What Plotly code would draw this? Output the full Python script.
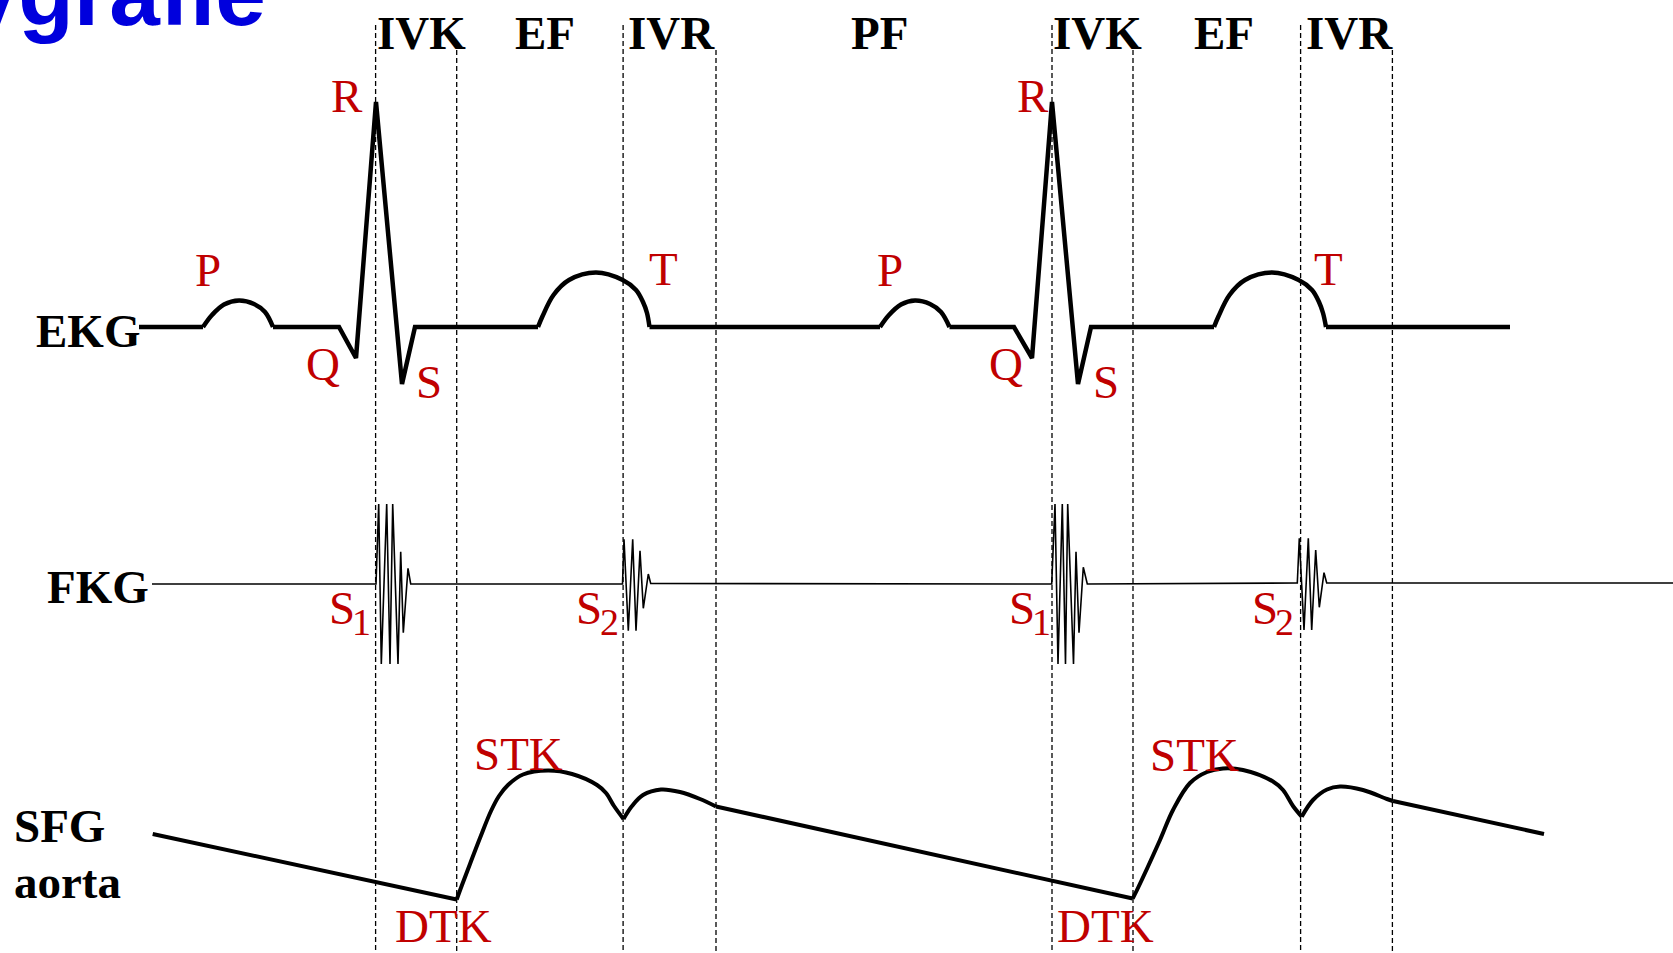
import plotly.graph_objects as go

# ---------------- data (schematic coordinates) ----------------
# EKG straight parts (None separates pieces)
EKG_LINE_X = [139, 203, None, 273, 339, 356, 376, 402, 415, 538, None, 649.5, 880, None,
              949.5, 1014, 1032, 1052, 1078, 1091, 1214, None, 1326, 1510]
EKG_LINE_Y = [327, 327, None, 327, 327, 358, 102, 384, 327, 327, None, 327, 327, None,
              327, 327, 358, 102, 384, 327, 327, None, 327, 327]
# EKG rounded waves (P and T), drawn as splines
EKG_WAVE_X = [203, 212, 224, 239, 254, 265, 273, None,
              538, 542.4, 553.5, 569, 596, 622.7, 636, 643, 647, 649.5, None,
              880, 889, 901, 915, 930, 941, 949.5, None,
              1214, 1218.4, 1229.5, 1245, 1272, 1298.7, 1312, 1319, 1323, 1326]
EKG_WAVE_Y = [327, 315, 304.5, 300.5, 304, 312, 327, None,
              327, 316.5, 295, 280, 272.5, 280, 290, 302, 313, 327, None,
              327, 315, 304.5, 300.5, 304, 312, 327, None,
              327, 316.5, 295, 280, 272.5, 280, 290, 302, 313, 327]

# FKG (phonocardiogram) trace
FKG_X = [152, 376, 378.7, 381.3, 386.7, 390, 392.7, 398, 400.7, 403.3, 408, 410.7,
         622.5, 624, 628.3, 632.7, 636, 640, 643.3, 648.3, 650.7,
         1051.7, 1055, 1058, 1062.3, 1065.5, 1067.7, 1073.5, 1076, 1079, 1083.3, 1087.3,
         1297.3, 1299.3, 1304, 1308.3, 1311.7, 1315.7, 1319.3, 1324, 1326.7, 1673]
FKG_Y = [584, 584, 504, 664, 504, 664, 504, 664, 551.7, 632.7, 568.3, 584,
         584, 539.3, 630.7, 539.3, 630.7, 550.7, 608.3, 574, 583.5,
         584, 504, 664, 504, 664, 504, 664, 551.7, 632.7, 567.3, 584,
         583, 538.3, 630, 538.3, 630, 550, 607.3, 572.7, 583, 583]

# SFG aorta: straight diastolic run-offs
SFG_LINE_X = [152.7, 456.7, None, 716, 1132.7, None, 1393, 1544]
SFG_LINE_Y = [834, 899.5, None, 806.5, 898.5, None, 801, 834]
# SFG aorta: systolic curves (splines), split at the dicrotic notch
SFG_CURVE_X = [456.7, 462, 470, 480, 491, 499, 508, 523, 548, 572, 597, 606, 614, 623.5, None,
               623.5, 632, 643, 661, 680, 700, 716, None,
               1132.7, 1137, 1160, 1173, 1190, 1207, 1223, 1243, 1273, 1283, 1293, 1301.7, None,
               1301.7, 1313, 1327, 1340, 1363, 1387, 1393]
SFG_CURVE_Y = [899.5, 885, 864, 838, 811, 796, 785, 774.5, 770.5, 774, 785, 793, 806, 819, None,
               819, 806, 795, 789.5, 792, 799, 806.5, None,
               898.5, 890, 840, 810, 783, 772, 768.5, 770, 781.5, 790, 806, 816.7, None,
               816.7, 800, 789.5, 786.5, 790, 799, 801]

# phase boundaries (dashed lines)
BOUND_X = [375.6, 456.7, 623.1, 716, 1052, 1133, 1300.6, 1392.4]
BOUND_TOP = [25, 50, 25, 50, 25, 50, 25, 50]
BOUND_BOTTOM = 953

# phase labels
PHASE_TEXT = ["IVK", "EF", "IVR", "PF", "IVK", "EF", "IVR"]
PHASE_X = [421, 544.6, 671, 879, 1097.8, 1224, 1349.7]
PHASE_Y = 32.5

# red wave labels
WAVE_TEXT = ["P", "Q", "R", "S", "T", "P", "Q", "R", "S", "T", "STK", "DTK", "STK", "DTK"]
WAVE_X = [208, 323, 346.5, 428.6, 663, 889.6, 1006, 1032.6, 1105.5, 1328.5, 518.4, 443, 1194, 1105]
WAVE_Y = [270, 364, 96, 381.7, 269, 270, 364, 96, 381.7, 269, 754, 925.5, 755, 926]

# heart sound labels (letter + subscript)
SOUND_MAIN_X = [342, 589, 1022, 1264.5]
SOUND_SUB = ["1", "2", "1", "2"]
SOUND_SUB_X = [361.3, 609, 1041, 1284.5]
SOUND_Y = 608
SOUND_SUB_Y = 622

# row labels
ROW_TEXT = ["EKG", "FKG"]
ROW_X = [88, 97.5]
ROW_Y = [330.5, 587]

RED = "#C00000"
SERIF = "Liberation Serif, Times New Roman, serif"

fig = go.Figure()

# dashed boundaries
dx, dy = [], []
for x, t in zip(BOUND_X, BOUND_TOP):
    dx += [x, x, None]
    dy += [t, BOUND_BOTTOM, None]
fig.add_trace(go.Scatter(x=dx, y=dy, mode="lines",
                         line=dict(color="black", width=1.3, dash="5px,3px"),
                         hoverinfo="skip"))

fig.add_trace(go.Scatter(x=EKG_LINE_X, y=EKG_LINE_Y, mode="lines",
                         line=dict(color="black", width=4.5), connectgaps=False))
fig.add_trace(go.Scatter(x=EKG_WAVE_X, y=EKG_WAVE_Y, mode="lines",
                         line=dict(color="black", width=4.5, shape="spline", smoothing=1),
                         connectgaps=False))
fig.add_trace(go.Scatter(x=FKG_X, y=FKG_Y, mode="lines",
                         line=dict(color="black", width=1.6)))
fig.add_trace(go.Scatter(x=SFG_LINE_X, y=SFG_LINE_Y, mode="lines",
                         line=dict(color="black", width=4), connectgaps=False))
fig.add_trace(go.Scatter(x=SFG_CURVE_X, y=SFG_CURVE_Y, mode="lines",
                         line=dict(color="black", width=4, shape="spline", smoothing=1),
                         connectgaps=False))

ann = []
# partially cut title (as in the reference)
ann.append(dict(text="Polygrafie", xref="x", yref="paper", x=268, y=1 + 7.0 / 953,
                xanchor="right", yanchor="middle", showarrow=False,
                font=dict(family="Liberation Sans, Arial, sans-serif", size=91,
                          color="#0000DD", weight="bold")))
for t, x in zip(PHASE_TEXT, PHASE_X):
    ann.append(dict(text=t, x=x, y=PHASE_Y, xanchor="center", yanchor="middle",
                    showarrow=False,
                    font=dict(family=SERIF, size=47, color="black", weight="bold")))
for t, x, y in zip(ROW_TEXT, ROW_X, ROW_Y):
    ann.append(dict(text=t, x=x, y=y, xanchor="center", yanchor="middle",
                    showarrow=False,
                    font=dict(family=SERIF, size=47, color="black", weight="bold")))
ann.append(dict(text="SFG", x=12, y=826, xanchor="left", yanchor="middle", showarrow=False,
                font=dict(family=SERIF, size=47, color="black", weight="bold")))
ann.append(dict(text="aorta", x=12, y=882, xanchor="left", yanchor="middle", showarrow=False,
                font=dict(family=SERIF, size=47, color="black", weight="bold")))
for t, x, y in zip(WAVE_TEXT, WAVE_X, WAVE_Y):
    ann.append(dict(text=t, x=x, y=y, xanchor="center", yanchor="middle", showarrow=False,
                    font=dict(family=SERIF, size=47, color=RED)))
for x, sx, s in zip(SOUND_MAIN_X, SOUND_SUB_X, SOUND_SUB):
    ann.append(dict(text="S", x=x, y=SOUND_Y, xanchor="center", yanchor="middle",
                    showarrow=False, font=dict(family=SERIF, size=47, color=RED)))
    ann.append(dict(text=s, x=sx, y=SOUND_SUB_Y, xanchor="center", yanchor="middle",
                    showarrow=False, font=dict(family=SERIF, size=38, color=RED)))

fig.update_layout(
    width=1673, height=953,
    margin=dict(l=0, r=0, t=0, b=0),
    paper_bgcolor="white", plot_bgcolor="white",
    showlegend=False,
    xaxis=dict(range=[0, 1673], visible=False, fixedrange=True),
    yaxis=dict(range=[953, 0], visible=False, fixedrange=True),
    annotations=ann,
)

fig.write_html(
    "out.html",
    config={"displayModeBar": False},
    post_script="document.body.style.margin='0';document.body.style.overflow='hidden';",
)
